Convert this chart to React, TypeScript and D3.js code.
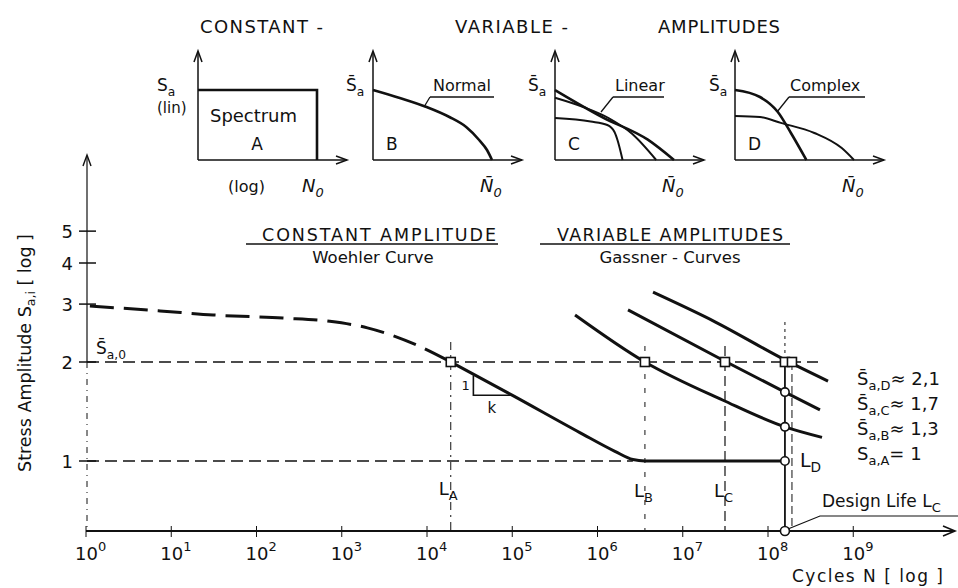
import * as d3 from 'd3'

// ---- values ----
const xExponents = [0, 1, 2, 3, 4, 5, 6, 7, 8, 9]
const yTickValues = [1, 2, 3, 4, 5]

// Woehler curve (constant amplitude): N cycles, S relative amplitude
const woehlerDashN = [1.11, 7.4, 31, 204, 724, 2000, 7600, 19000]
const woehlerDashS = [2.96, 2.86, 2.78, 2.72, 2.66, 2.54, 2.25, 2.0]
const woehlerN = [19000, 1.02e5, 6.2e5, 1.6e6, 2.6e6, 3.6e6, 1.58e8]
const woehlerS = [2.0, 1.58, 1.22, 1.07, 1.01, 1.0, 1.0]

// Gassner curves (variable amplitudes B, C, D)
const gassnerBN = [5.45e5, 3.6e6, 2.97e7, 1.58e8, 4.3e8]
const gassnerBS = [2.78, 2.0, 1.53, 1.27, 1.18]
const gassnerCN = [2.28e6, 3.13e7, 1.58e8, 4.07e8]
const gassnerCS = [2.88, 2.01, 1.62, 1.43]
const gassnerDN = [4.48e6, 2.39e7, 1.58e8, 5.06e8]
const gassnerDS = [3.26, 2.65, 2.03, 1.75]

// lives
const lifeA = 1.9e4
const lifeB = 3.6e6
const lifeC = 3.13e7
const designLife = 1.58e8
const designLife2 = 1.91e8
const squareN = [lifeA, lifeB, lifeC, designLife, designLife2]
const circleS = [1.62, 1.27, 1.0]
const slopeN = [3.5e4, 1.0e5]
const slopeS = [1.82, 1.585]

// legend
const legendSub = ['a,D', 'a,C', 'a,B', 'a,A']
const legendRel = ['\u2248 2,1', '\u2248 1,7', '\u2248 1,3', '= 1']
const legendBar = [true, true, true, false]

// spectra in the small inserts (fraction of N0, fraction of Sa)
const spectrumA: [number, number][] = [[0, 1], [1, 1], [1, 0]]
const spectrumNormal: [number, number][] = [
  [0, 1], [0.225, 0.886], [0.45, 0.757], [0.642, 0.614], [0.783, 0.471],
  [0.892, 0.286], [0.958, 0.143], [1, 0],
]
const linearOuter: [number, number][] = [[0, 1], [0.4, 0.61], [0.78, 0.29], [1, 0]]
const linearMiddle: [number, number][] = [[0, 0.89], [0.25, 0.75], [0.45, 0.6], [0.65, 0.37], [0.85, 0]]
const linearInner: [number, number][] = [[0, 0.6], [0.3, 0.55], [0.44, 0.5], [0.5, 0.4], [0.525, 0.286], [0.568, 0]]
const complexOuter: [number, number][] = [[0, 1], [0.21, 0.9], [0.36, 0.686], [0.47, 0.386], [0.6, 0]]
const complexInner: [number, number][] = [[0, 0.63], [0.21, 0.614], [0.385, 0.53], [0.667, 0.386], [0.897, 0.17], [1, 0]]

const FONT = 'DejaVu Sans'
const INK = '#111'

function Sub({ x, y, main, sub, size = 17, bar = false, anchor = 'start', after = '', italic = false }: any) {
  return (
    <text x={x} y={y} fontSize={size} textAnchor={anchor} fontStyle={italic ? 'italic' : 'normal'}>
      {bar ? main + '\u0304' : main}
      <tspan dy={size * 0.28} fontSize={size * 0.72}>{sub}</tspan>
      {after && <tspan dy={-size * 0.28}>{after}</tspan>}
    </text>
  )
}

function upArrow(x: number, y: number) {
  return `M${x - 4},${y + 11}L${x},${y}L${x + 4},${y + 11}`
}
function rightArrow(x: number, y: number) {
  return `M${x - 11},${y - 4}L${x},${y}L${x - 11},${y + 4}`
}

function Inset({ x0, sX, curves, letter, label, labelX, leader, barS, nX, nBar }: any) {
  const ix = d3.scaleLinear([0, 1], [x0, x0 + 119])
  const iy = d3.scaleLinear([0, 1], [160, 90])
  const line = d3
    .line<[number, number]>()
    .x((d) => ix(d[0]))
    .y((d) => iy(d[1]))
    .curve(d3.curveMonotoneX)
  const axisEnd = x0 + 149
  return (
    <g>
      <line x1={x0} x2={x0} y1={160} y2={52} stroke={INK} strokeWidth={1.5} />
      <path d={upArrow(x0, 51)} fill="none" stroke={INK} strokeWidth={1.5} />
      <line x1={x0} x2={axisEnd} y1={160} y2={160} stroke={INK} strokeWidth={1.5} />
      <path d={rightArrow(axisEnd, 160)} fill="none" stroke={INK} strokeWidth={1.5} />
      {curves.map((c: [number, number][], i: number) => (
        <path
          key={i}
          d={c === spectrumA ? 'M' + c.map((p) => [ix(p[0]), iy(p[1])].join(',')).join('L') : line(c) || undefined}
          fill="none"
          stroke={INK}
          strokeWidth={i === 0 ? 2.6 : 2}
        />
      ))}
      <Sub x={sX} y={91} main="S" sub="a" size={17} bar={barS} />
      {letter && (
        <text x={x0 + 13} y={150} fontSize={17}>
          {letter}
        </text>
      )}
      {label && (
        <g>
          <text x={labelX} y={91} fontSize={16}>
            {label}
          </text>
          <line x1={leader[1]} x2={leader[2]} y1={97} y2={97} stroke={INK} strokeWidth={1.3} />
          <line x1={leader[0][0]} y1={leader[0][1]} x2={leader[1]} y2={97} stroke={INK} strokeWidth={1.3} />
        </g>
      )}
      <Sub x={nX} y={192} main="N" sub="0" size={18} bar={nBar} italic />
    </g>
  )
}

export default function App() {
  const width = 958
  const height = 588
  const x = d3.scaleLog([1, 1e9], [86, 853.25])
  const y = d3.scaleLog([1, 2], [461, 362])
  const line = d3
    .line<[number, number]>()
    .x((d) => x(d[0]))
    .y((d) => y(d[1]))
    .curve(d3.curveMonotoneX)
  const zip = (a: number[], b: number[]) => a.map((v, i) => [v, b[i]] as [number, number])
  const axisY = 531
  const yAxisX = 87
  const xDL = x(designLife)

  return (
    <svg
      width={width}
      height={height}
      style={{ position: 'absolute', left: 0, top: 0, background: '#fff' }}
      fontFamily={FONT}
      fill={INK}
    >
      {/* top titles */}
      <text x={200} y={33} fontSize={18} textLength={123} lengthAdjust="spacing">CONSTANT -</text>
      <text x={455} y={33} fontSize={18} textLength={113} lengthAdjust="spacing">VARIABLE -</text>
      <text x={658} y={33} fontSize={18} textLength={122} lengthAdjust="spacing">AMPLITUDES</text>

      {/* inserts */}
      <Inset x0={198} sX={157} curves={[spectrumA]} letter="" barS={false} nX={302} nBar={false} />
      <text x={157} y={113} fontSize={15}>(lin)</text>
      <text x={210} y={122} fontSize={18} textLength={87}>Spectrum</text>
      <text x={257} y={150} fontSize={17} textAnchor="middle">A</text>
      <text x={228} y={192} fontSize={16}>(log)</text>
      <Inset
        x0={373}
        sX={346}
        curves={[spectrumNormal]}
        letter="B"
        label="Normal"
        labelX={433}
        leader={[[424, 107], 430, 494]}
        barS
        nX={480}
        nBar
      />
      <Inset
        x0={555}
        sX={528}
        curves={[linearOuter, linearMiddle, linearInner]}
        letter="C"
        label="Linear"
        labelX={615}
        leader={[[601, 112], 613, 664]}
        barS
        nX={662}
        nBar
      />
      <Inset
        x0={735}
        sX={709}
        curves={[complexOuter, complexInner]}
        letter="D"
        label="Complex"
        labelX={790}
        leader={[[777, 112], 789, 865]}
        barS
        nX={842}
        nBar
      />

      {/* headings */}
      <text x={262} y={241} fontSize={17.5} textLength={234} lengthAdjust="spacing">CONSTANT AMPLITUDE</text>
      <line x1={246} x2={498} y1={244} y2={244} stroke={INK} strokeWidth={1.3} />
      <text x={373} y={263} fontSize={16.5} textAnchor="middle">Woehler Curve</text>
      <text x={557} y={241} fontSize={17.5} textLength={226} lengthAdjust="spacing">VARIABLE AMPLITUDES</text>
      <line x1={540} x2={790} y1={244} y2={244} stroke={INK} strokeWidth={1.3} />
      <text x={670} y={263} fontSize={16.5} textAnchor="middle">Gassner - Curves</text>

      {/* y axis */}
      <line x1={yAxisX} x2={yAxisX} y1={157} y2={y(2)} stroke={INK} strokeWidth={1.2} />
      <line x1={yAxisX} x2={yAxisX} y1={y(2)} y2={axisY} stroke={INK} strokeWidth={1} strokeDasharray="6 5 1 5" />
      <path d={upArrow(yAxisX, 155)} fill="none" stroke={INK} strokeWidth={1.4} />
      {yTickValues.map((v) => (
        <g key={v}>
          <line x1={79} x2={96} y1={y(v)} y2={y(v)} stroke={INK} strokeWidth={1.5} />
          <text x={73} y={y(v) + 6.5} fontSize={18} textAnchor="end">{v}</text>
        </g>
      ))}
      <g transform={`translate(31, 353) rotate(-90)`}>
        <text x={0} y={0} fontSize={17.5} textAnchor="middle">
          Stress Amplitude  S<tspan dy={4} fontSize={12.5}>a,i</tspan>
          <tspan dy={-4}> [ log ]</tspan>
        </text>
      </g>

      {/* x axis */}
      <line x1={86} x2={954} y1={axisY} y2={axisY} stroke={INK} strokeWidth={2} />
      <path d={`M943,${axisY - 5}L955,${axisY}L943,${axisY + 5}`} fill="none" stroke={INK} strokeWidth={1.6} />
      {xExponents.map((e) => (
        <g key={e}>
          <line x1={x(10 ** e)} x2={x(10 ** e)} y1={axisY - 5} y2={axisY + 6} stroke={INK} strokeWidth={1} />
          <text x={x(10 ** e) - 11} y={560} fontSize={18}>
            10<tspan dy={-9} fontSize={13}>{e}</tspan>
          </text>
        </g>
      ))}
      <text x={792} y={582} fontSize={17} textLength={151} lengthAdjust="spacing">
        Cycles  N  [ log ]
      </text>

      {/* reference levels */}
      <line x1={yAxisX} x2={818} y1={y(2)} y2={y(2)} stroke={INK} strokeWidth={1.5} strokeDasharray="12 6" />
      <line x1={yAxisX} x2={x(2.6e6)} y1={y(1)} y2={y(1)} stroke={INK} strokeWidth={1.5} strokeDasharray="12 6" />
      <Sub x={96} y={354} main="S" sub="a,0" size={17} bar />

      {/* life lines */}
      <line x1={x(lifeA)} x2={x(lifeA)} y1={342} y2={axisY} stroke={INK} strokeWidth={1} strokeDasharray="8 5 2 5" />
      <line x1={x(lifeB)} x2={x(lifeB)} y1={346} y2={axisY} stroke={INK} strokeWidth={1} strokeDasharray="5 9" />
      <line x1={x(lifeC)} x2={x(lifeC)} y1={346} y2={axisY} stroke={INK} strokeWidth={1.2} strokeDasharray="10 5" />
      <line x1={xDL} x2={xDL} y1={322} y2={y(2)} stroke={INK} strokeWidth={1} strokeDasharray="3 4" />
      <line x1={xDL} x2={xDL} y1={y(2)} y2={axisY} stroke={INK} strokeWidth={1.8} />
      <line x1={x(designLife2)} x2={x(designLife2)} y1={y(2)} y2={axisY} stroke={INK} strokeWidth={1} strokeDasharray="8 4" />

      {/* Woehler curve */}
      <path d={line(zip(woehlerDashN, woehlerDashS)) || undefined} fill="none" stroke={INK} strokeWidth={3} strokeDasharray="24 10" />
      <path d={line(zip(woehlerN, woehlerS)) || undefined} fill="none" stroke={INK} strokeWidth={3} />
      <path
        d={`M${x(slopeN[0])},${y(slopeS[0])}L${x(slopeN[0])},${y(slopeS[1])}L${x(slopeN[1])},${y(slopeS[1])}`}
        fill="none"
        stroke={INK}
        strokeWidth={1.6}
      />
      <text x={x(slopeN[0]) - 12} y={y(slopeS[0]) + 15} fontSize={13}>1</text>
      <text x={x(slopeN[0]) + 14} y={y(slopeS[1]) + 18} fontSize={15}>k</text>

      {/* Gassner curves */}
      {[
        zip(gassnerBN, gassnerBS),
        zip(gassnerCN, gassnerCS),
        zip(gassnerDN, gassnerDS),
      ].map((c, i) => (
        <path key={i} d={line(c) || undefined} fill="none" stroke={INK} strokeWidth={3} />
      ))}

      {/* markers */}
      {squareN.map((n, i) => (
        <rect key={i} x={x(n) - 4.5} y={y(2) - 4.5} width={9} height={9} fill="#fff" stroke={INK} strokeWidth={1.6} />
      ))}
      {circleS.map((s, i) => (
        <circle key={i} cx={xDL} cy={y(s)} r={4.2} fill="#fff" stroke={INK} strokeWidth={1.6} />
      ))}
      <circle cx={xDL} cy={axisY} r={4.5} fill="#fff" stroke={INK} strokeWidth={1.6} />

      {/* life labels */}
      <Sub x={x(lifeA) - 12} y={495} main="L" sub="A" size={18} />
      <Sub x={x(lifeB) - 11} y={497} main="L" sub="B" size={18} />
      <Sub x={x(lifeC) - 11} y={497} main="L" sub="C" size={18} />
      <Sub x={xDL + 15} y={467} main="L" sub="D" size={19} />

      {/* design life leader */}
      <path d={`M${xDL + 3},${axisY - 2}L820,516L958,516`} fill="none" stroke={INK} strokeWidth={1.2} />
      <text x={822} y={507} fontSize={17}>
        Design Life  L<tspan dy={5} fontSize={13}>C</tspan>
      </text>

      {/* legend */}
      {legendSub.map((s, i) => (
        <Sub
          key={s}
          x={857}
          y={385 + i * 25}
          main="S"
          sub={s}
          size={18}
          bar={legendBar[i]}
          after={legendRel[i]}
        />
      ))}
    </svg>
  )
}
